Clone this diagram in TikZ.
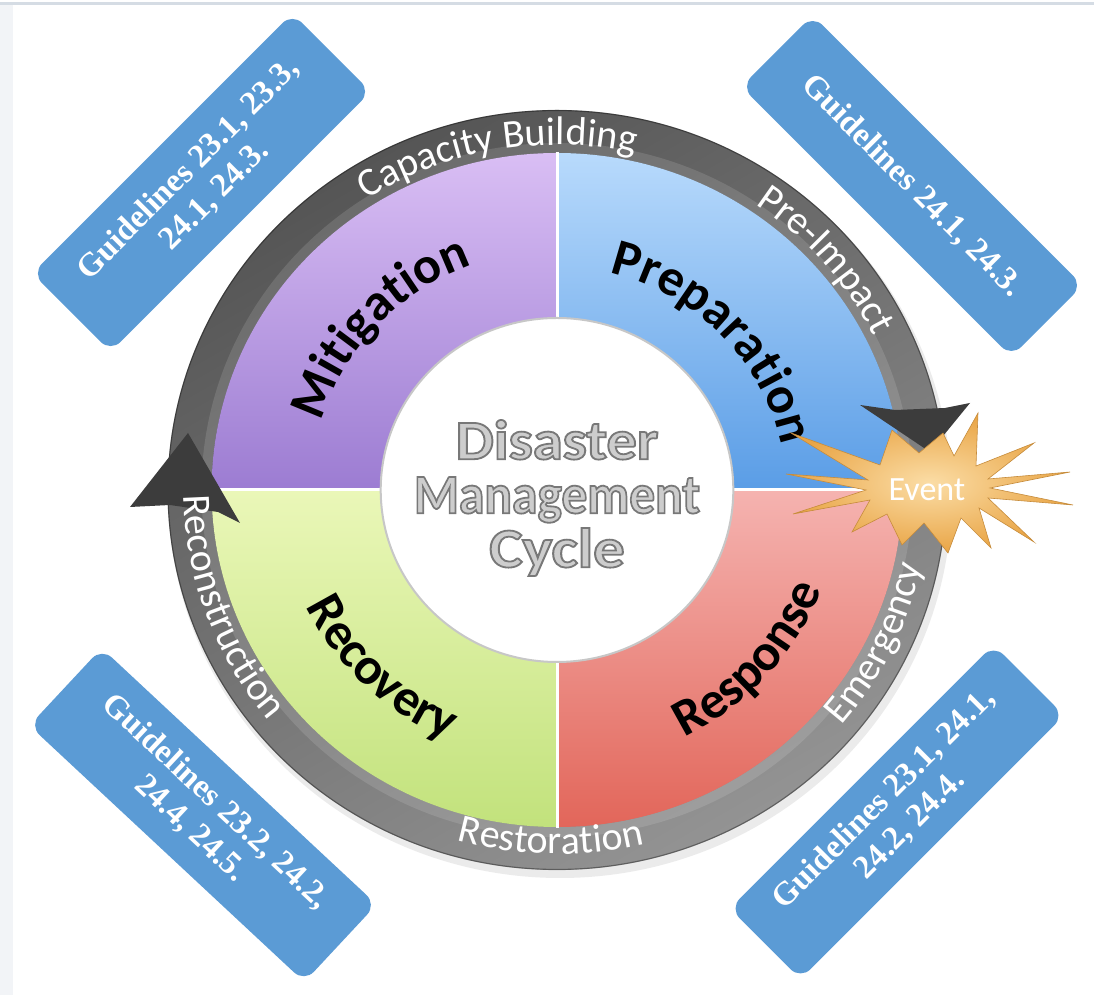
\documentclass[tikz,border=0pt]{standalone}
\usepackage{fontspec}
\usepackage{graphicx}
\usetikzlibrary{decorations.text,calc}
\newfontfamily\carl{Carlito}
\newfontfamily\serifb{Liberation Serif}
\definecolor{gblue}{HTML}{5B9BD5}
\definecolor{ringtop}{HTML}{555555}
\definecolor{ringbot}{HTML}{939393}
\definecolor{mitA}{HTML}{D9BEF4}
\definecolor{mitB}{HTML}{9C7CD2}
\definecolor{preA}{HTML}{B8DAFC}
\definecolor{preB}{HTML}{5A9DE6}
\definecolor{recA}{HTML}{EAF7B8}
\definecolor{recB}{HTML}{C2E27C}
\definecolor{resA}{HTML}{F5B3B0}
\definecolor{resB}{HTML}{E2665A}
\definecolor{titlefill}{HTML}{CDCDCD}
\definecolor{starA}{HTML}{FBDDA6}
\definecolor{starB}{HTML}{E9A546}
\definecolor{arrowc}{HTML}{3C3C3C}
\definecolor{topline}{HTML}{D5DCE4}
\definecolor{leftstrip}{HTML}{F2F4F7}
\newcommand\outl[1]{\special{pdf:literal direct 2 Tr 1.8 w 0.47 0.47 0.47 RG}#1\special{pdf:literal direct 0 Tr}}
\newcommand\ringfnt{\carl\fontsize{40}{44}\selectfont\color{white}}
\newcommand\quadfnt{\carl\bfseries\fontsize{52}{56}\selectfont}
\tikzset{
 gbox/.style={fill=gblue, rounded corners=14pt, text=white, align=center,
   font=\serifb\bfseries\fontsize{33}{37}\selectfont, inner sep=0pt},
 ringlabel/.style={decorate, decoration={text along path, text align=center, text={|\ringfnt|#1}}},
 quadlabel/.style={decorate, decoration={text along path, text align=center, text={|\quadfnt|#1}}},
}
\begin{document}
\begin{tikzpicture}[x=1pt,y=1pt]
\useasboundingbox (0,0) rectangle (1094,995);
\fill[white] (0,0) rectangle (1094,995);
\fill[leftstrip] (0,0) rectangle (13,990);
\draw[topline, line width=2.5pt] (0,991.5) -- (1094,991.5);

\begin{scope}[shift={(557,505)}, xscale=1.025]
\coordinate (C) at (0,0);
% shadow
\fill[black, opacity=0.08] (3,-6) circle[radius=382pt];
% ring
\path[even odd rule, top color=ringtop, bottom color=ringbot, shading angle=30]
  (0,0) circle[radius=380pt] (0,0) circle[radius=334pt];
\draw[black, opacity=0.35, line width=1.2pt] (0,0) circle[radius=379.5pt];
\draw[white, opacity=0.12, line width=10pt] (0,0) circle[radius=342pt];
% quadrants
\path[top color=preA, bottom color=preB] (0:337pt) arc[start angle=0,end angle=90,radius=337pt]
  -- (90:172pt) arc[start angle=90,end angle=0,radius=172pt] -- cycle;
\path[top color=mitA, bottom color=mitB] (90:337pt) arc[start angle=90,end angle=180,radius=337pt]
  -- (180:172pt) arc[start angle=180,end angle=90,radius=172pt] -- cycle;
\path[top color=recA, bottom color=recB] (180:337pt) arc[start angle=180,end angle=270,radius=337pt]
  -- (270:172pt) arc[start angle=270,end angle=180,radius=172pt] -- cycle;
\path[top color=resA, bottom color=resB] (270:337pt) arc[start angle=270,end angle=360,radius=337pt]
  -- (0:172pt) arc[start angle=360,end angle=270,radius=172pt] -- cycle;
\foreach \a in {0,90,180,270} \draw[white, line width=3pt] (\a:170pt) -- (\a:338pt);
% inner circle
\fill[white] (0,0) circle[radius=172pt];
\draw[black!22, line width=2pt] (0,0) circle[radius=172pt];
\end{scope}

% arrowheads (under the ring labels)
\fill[arrowc] (188,562) -- (130,488) -- (170,490) -- (218,483) -- (240,472) -- cycle;
\fill[arrowc] (930,543) -- (860,590) -- (895,585) -- (945,587) -- (970,592) -- cycle;

\begin{scope}[shift={(557,505)}, xscale=1.025]
% ring labels
\path[ringlabel=Capacity Building] (135:345pt) arc[start angle=135,end angle=65,radius=345pt];
\path[ringlabel=Pre-Impact] (78:345pt) arc[start angle=78,end angle=4,radius=345pt];
\path[ringlabel=Emergency] (-62:364pt) arc[start angle=-62,end angle=10,radius=364pt];
\path[ringlabel=Restoration] (-130:364pt) arc[start angle=-130,end angle=-52,radius=364pt];
\path[ringlabel=Reconstruction] (162:364pt) arc[start angle=162,end angle=238,radius=364pt];
% quadrant labels
\path[quadlabel=Mitigation] (177:240pt) arc[start angle=177,end angle=97,radius=240pt];
\path[quadlabel=Preparation] (88:223pt) arc[start angle=88,end angle=0,radius=223pt];
\path[quadlabel=Recovery] (188:271pt) arc[start angle=188,end angle=264,radius=271pt];
\path[quadlabel=Response] (-80:277pt) arc[start angle=-80,end angle=-4,radius=277pt];
% title
\node[font=\carl\bfseries\fontsize{56}{54}\selectfont, text=titlefill, align=center] (title) at (0,-8)
  {\outl{\scalebox{1.08}[1]{Disaster}}\\ \outl{\scalebox{0.92}[1]{Management}}\\ \outl{\scalebox{1.12}[1]{Cycle}}};
\end{scope}

% event star
\begin{scope}[shift={(928,507)}]
\path[draw=starB!85!black, line width=0.6pt, inner color=starA, outer color=starB]
 (-135,-26) -- (-58,-12) -- (-76,-44) -- (-41,-26) -- (-26,-57) -- (-4,-35)
 -- (20,-65) -- (33,-30) -- (63,-60) -- (51,-20) -- (106,-54) -- (60,-10)
 -- (145,-17) -- (62,0) -- (142,16) -- (60,9) -- (106,45) -- (48,22)
 -- (50,75) -- (26,32) -- (15,55) -- (-9,35) -- (-36,58) -- (-48,23)
 -- (-137,55) -- (-60,8) -- (-142,14) -- (-62,-2) -- cycle;
\end{scope}
\node[font=\carl\fontsize{34}{36}\selectfont, text=white] (ev) at (927,505) {Event};

% guideline boxes
\node[gbox, rotate=45, minimum width=368pt, minimum height=111pt] (g1) at (201.5,812.5)
  {Guidelines 23.1, 23.3,\\24.1, 24.3.};
\node[gbox, rotate=-45, minimum width=382pt, minimum height=101pt] (g2) at (912,809)
  {Guidelines 24.1, 24.3.};
\node[gbox, rotate=-43, minimum width=376pt, minimum height=106pt] (g3) at (203,180)
  {Guidelines 23.2, 24.2,\\24.4, 24.5.};
\node[gbox, rotate=45, minimum width=373pt, minimum height=100pt] (g4) at (897,183)
  {Guidelines 23.1, 24.1,\\24.2, 24.4.};
\end{tikzpicture}
\end{document}
